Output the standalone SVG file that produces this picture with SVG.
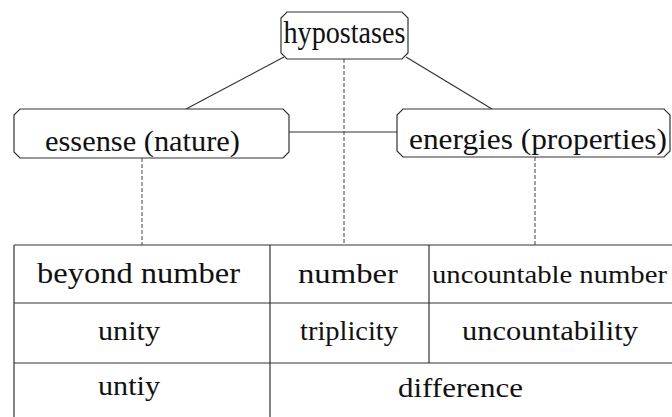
<svg xmlns="http://www.w3.org/2000/svg" width="672" height="417" viewBox="0 0 672 417">
<style>
.box{fill:#fff;stroke:#333;stroke-width:1.2}
.ln{stroke:#333;stroke-width:1.2;fill:none}
.dash{stroke:#444;stroke-width:1;stroke-dasharray:4 2;fill:none}
.t{fill:#111;text-anchor:middle}
</style>
<rect width="672" height="417" fill="#fff"/>
<g id="connectors">
<line class="ln" x1="284" y1="57" x2="186" y2="109"/>
<line class="ln" x1="406" y1="57" x2="492" y2="109"/>
<line class="ln" x1="289" y1="132" x2="397" y2="132"/>
<line class="dash" x1="344" y1="59" x2="344" y2="245"/>
<line class="dash" x1="142" y1="158" x2="142" y2="245"/>
<line class="dash" x1="535" y1="157" x2="535" y2="245"/>
</g>
<g font-family="Liberation Serif, serif">
<g id="hypostases">
<path class="box" d="M287,12 H402 L408,18 V53 L402,59 H287 L281,53 V18 Z"/>
<text class="t" x="344.5" y="43" font-size="31" textLength="122" lengthAdjust="spacingAndGlyphs">hypostases</text>
</g>
<g id="essense">
<path class="box" d="M20,109 H283 L289,115 V152 L283,158 H20 L14,152 V115 Z"/>
<text class="t" x="142.5" y="151" font-size="29" textLength="195" lengthAdjust="spacingAndGlyphs">essense (nature)</text>
</g>
<g id="energies">
<path class="box" d="M403,109 H664 L670,115 V151 L664,157 H403 L397,151 V115 Z"/>
<text class="t" x="538" y="149" font-size="30" textLength="258" lengthAdjust="spacingAndGlyphs">energies (properties)</text>
</g>
<g id="table">
<line class="ln" x1="14" y1="245" x2="672" y2="245"/>
<line class="ln" x1="14" y1="303" x2="672" y2="303"/>
<line class="ln" x1="14" y1="363" x2="672" y2="363"/>
<line class="ln" x1="14" y1="245" x2="14" y2="417"/>
<line class="ln" x1="270" y1="245" x2="270" y2="417"/>
<line class="ln" x1="429" y1="245" x2="429" y2="363"/>
<text class="t" x="138.5" y="283" font-size="29" textLength="203" lengthAdjust="spacingAndGlyphs">beyond number</text>
<text class="t" x="348" y="283" font-size="27" textLength="100" lengthAdjust="spacingAndGlyphs">number</text>
<text class="t" x="549.5" y="283" font-size="26" textLength="235" lengthAdjust="spacingAndGlyphs">uncountable number</text>
<text class="t" x="129" y="340" font-size="28" textLength="62" lengthAdjust="spacingAndGlyphs">unity</text>
<text class="t" x="349" y="340" font-size="27" textLength="98" lengthAdjust="spacingAndGlyphs">triplicity</text>
<text class="t" x="550" y="340" font-size="28" textLength="176" lengthAdjust="spacingAndGlyphs">uncountability</text>
<text class="t" x="129" y="395" font-size="28" textLength="62" lengthAdjust="spacingAndGlyphs">untiy</text>
<text class="t" x="460.5" y="397" font-size="28" textLength="125" lengthAdjust="spacingAndGlyphs">difference</text>
</g>
</g>
</svg>
